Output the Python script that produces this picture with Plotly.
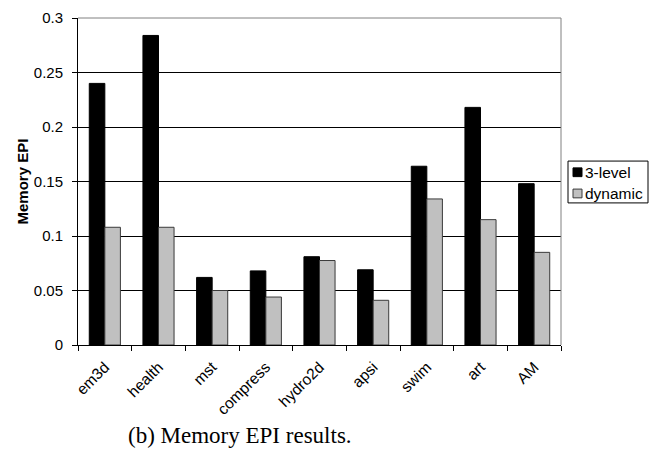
import plotly.graph_objects as go

# Benchmarks and memory energy-per-instruction for the two schemes
benchmarks = ["em3d", "health", "mst", "compress", "hydro2d", "apsi", "swim", "art", "AM"]
three_level = [0.240, 0.284, 0.062, 0.068, 0.081, 0.069, 0.164, 0.218, 0.148]
dynamic = [0.108, 0.108, 0.050, 0.044, 0.0775, 0.041, 0.134, 0.115, 0.085]
series_names = ["3-level", "dynamic"]
y_ticks = [0, 0.05, 0.1, 0.15, 0.2, 0.25, 0.3]

W, H = 658, 455
L, R, T, B = 78, 97, 9, 110
PW, PH = W - L - R, H - T - B


def px_x(x):
    return (x - L) / PW


def px_y(y):
    return (H - B - y) / PH


fig = go.Figure()
fig.add_trace(go.Bar(
    x=benchmarks, y=three_level, name=series_names[0],
    marker=dict(color="#000000", line=dict(color="#000000", width=1)),
    showlegend=False,
))
fig.add_trace(go.Bar(
    x=benchmarks, y=dynamic, name=series_names[1],
    marker=dict(color="#c0c0c0", line=dict(color="#3a3a3a", width=1)),
    showlegend=False,
))

font = "Liberation Sans, Arial, sans-serif"

fig.update_layout(
    width=W, height=H,
    margin=dict(l=L, r=R, t=T, b=B, pad=0),
    paper_bgcolor="white", plot_bgcolor="white",
    barmode="group", bargap=0.42, bargroupgap=0,
    font=dict(family=font, size=15, color="black"),
    xaxis=dict(
        type="category", tickson="boundaries", ticks="outside", ticklen=5,
        tickcolor="black", showline=True, linecolor="black", linewidth=1,
        showgrid=False, tickangle=-45, tickfont=dict(size=15.5),
        ticklabelstandoff=6,
    ),
    yaxis=dict(
        range=[0, 0.3], tickvals=y_ticks, ticktext=[f"{v:g}" for v in y_ticks],
        ticks="outside", ticklen=5, tickcolor="black",
        showline=True, linecolor="black", linewidth=1,
        showgrid=True, gridcolor="black", gridwidth=1,
        zeroline=False, tickfont=dict(size=15), ticklabelstandoff=6,
    ),
)

# Grey frame on the top and right of the plot area
fig.add_shape(type="line", xref="paper", yref="paper", x0=0, x1=1, y0=1, y1=1,
              line=dict(color="#808080", width=1), layer="above")
fig.add_shape(type="line", xref="paper", yref="paper", x0=1, x1=1, y0=0, y1=1,
              line=dict(color="#808080", width=1), layer="above")

# Axis title
fig.add_annotation(text="<b>Memory EPI</b>", xref="paper", yref="paper",
                   x=px_x(22), y=0.5, textangle=-90, showarrow=False,
                   font=dict(size=15, family=font), xanchor="center", yanchor="middle")

# Legend box with swatches
fig.add_shape(type="rect", xref="paper", yref="paper",
              x0=px_x(568), x1=px_x(648), y0=px_y(199), y1=px_y(156),
              line=dict(color="black", width=1), fillcolor="white")
swatches = [("#000000", "#000000", 167.5), ("#c0c0c0", "#3a3a3a", 189.3)]
for (fill, edge, cy), name in zip(swatches, series_names):
    fig.add_shape(type="rect", xref="paper", yref="paper",
                  x0=px_x(573), x1=px_x(582), y0=px_y(cy + 4.5), y1=px_y(cy - 4.5),
                  line=dict(color=edge, width=1), fillcolor=fill)
    fig.add_annotation(text=name, xref="paper", yref="paper",
                       x=px_x(583), y=px_y(cy), xanchor="left", yanchor="middle",
                       showarrow=False, font=dict(size=15.5, family=font))

# Caption
fig.add_annotation(text="(b) Memory EPI results.", xref="paper", yref="paper",
                   x=px_x(240), y=px_y(438), xanchor="center", yanchor="middle",
                   showarrow=False,
                   font=dict(size=23, family="Liberation Serif, Times New Roman, serif"))

fig.write_html("out.html")
